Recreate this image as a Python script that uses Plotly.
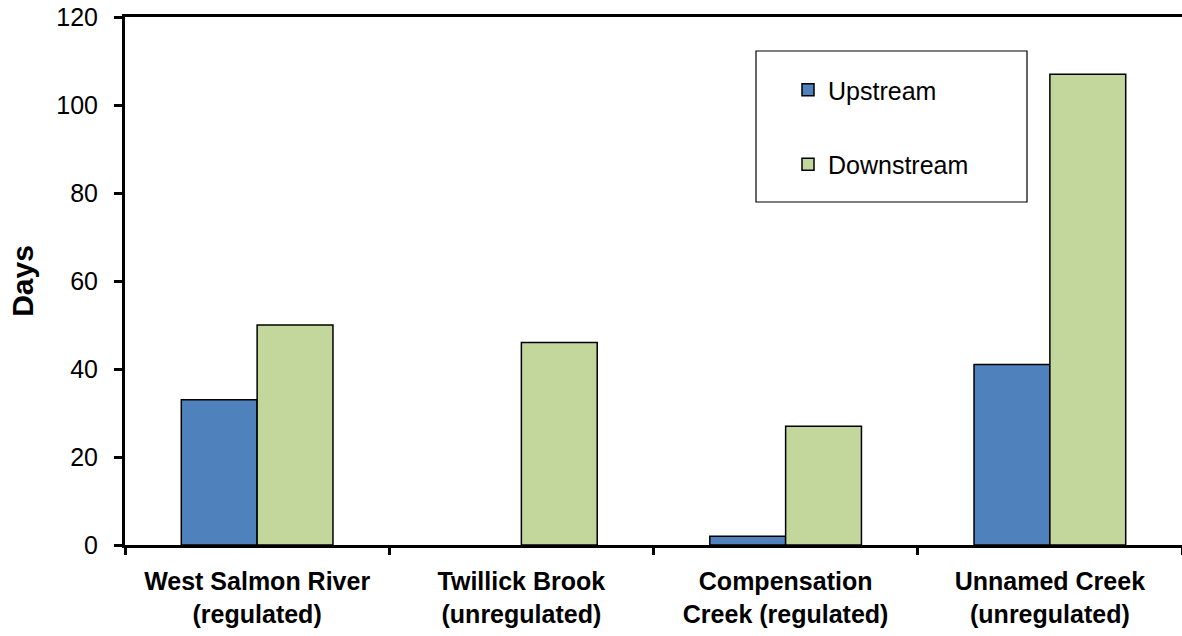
import plotly.graph_objects as go

categories = ["West Salmon River<br>(regulated)", "Twillick Brook<br>(unregulated)",
              "Compensation<br>Creek (regulated)", "Unnamed Creek<br>(unregulated)"]
upstream = [33, 0, 2, 41]
downstream = [50, 46, 27, 107]
y_ticks = [0, 20, 40, 60, 80, 100, 120]

def outline(vals):
    return [1.5 if v else 0 for v in vals]

fig = go.Figure()
fig.add_trace(go.Bar(x=categories, y=upstream, name="Upstream", legendgroup="u",
                     marker=dict(color="#4F81BD", line=dict(color="black", width=outline(upstream)))))
fig.add_trace(go.Bar(x=categories, y=downstream, name="Downstream", legendgroup="d",
                     marker=dict(color="#C3D69B", line=dict(color="black", width=outline(downstream)))))

W, H = 1182, 636
ml, mr, mt, mb = 125, 0, 17, 91
pw, ph = W - ml - mr, H - mt - mb

def px(x):
    return (x - ml) / pw

def py(y):
    return (H - mb - y) / ph

FONT = "Arial, Liberation Sans"
fig.update_layout(
    width=W, height=H,
    margin=dict(l=ml, r=mr, t=mt, b=mb),
    paper_bgcolor="white", plot_bgcolor="white",
    barmode="group", bargap=0.426, bargroupgap=0,
    font=dict(family=FONT, color="black", size=25),
    showlegend=True,
    legend=dict(x=px(788), y=py(67), xanchor="left", yanchor="top",
                bgcolor="rgba(0,0,0,0)", borderwidth=0,
                font=dict(size=25), tracegroupgap=39, traceorder="grouped",
                itemwidth=30),
    shapes=[dict(type="rect", xref="paper", yref="paper",
                 x0=px(756), x1=px(1027), y0=py(202), y1=py(51),
                 line=dict(color="black", width=1.2), fillcolor="rgba(0,0,0,0)")],
    xaxis=dict(showline=True, linecolor="black", linewidth=3, mirror=True,
               ticks="outside", tickson="boundaries", ticklen=7, tickwidth=3, tickcolor="black",
               tickfont=dict(size=25, family=FONT, weight="bold"), showgrid=False,
               ticklabelstandoff=12),
    yaxis=dict(range=[0, 120], tickvals=y_ticks, showline=True, linecolor="black", linewidth=3,
               ticks="outside", ticklen=8, tickwidth=3, tickcolor="black", showgrid=False,
               zeroline=False, tickfont=dict(size=25), ticklabelstandoff=11,
               title=dict(text="<b>Days</b>", font=dict(size=30), standoff=14)),
)
fig.write_html("out.html", config={"displayModeBar": False})
with open("out.html", encoding="utf-8") as f:
    html = f.read()
html = html.replace("<body>", '<body style="margin:0;overflow:hidden">', 1)
with open("out.html", "w", encoding="utf-8") as f:
    f.write(html)
